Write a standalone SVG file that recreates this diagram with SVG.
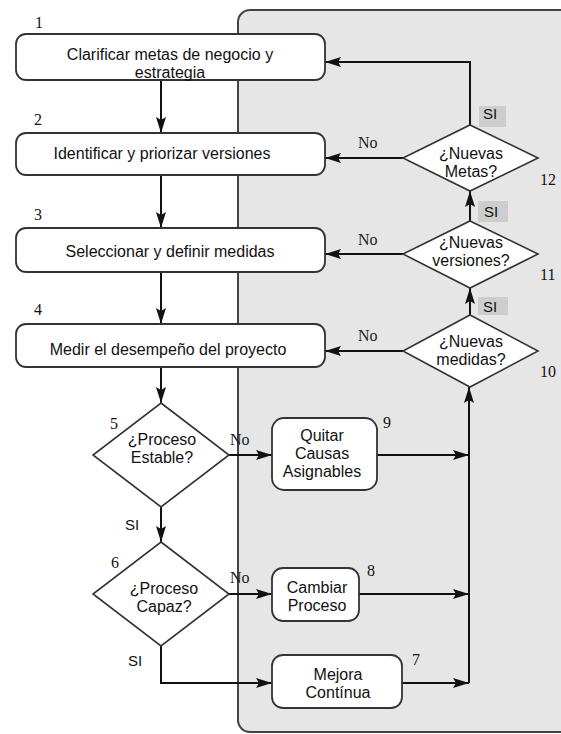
<svg xmlns="http://www.w3.org/2000/svg" width="561" height="734" viewBox="0 0 561 734">
  <style>
    .box { fill: #ffffff; stroke: #333333; stroke-width: 1.8; }
    .dia { fill: #ffffff; stroke: #333333; stroke-width: 1.6; }
    .t { font-family: "Liberation Sans", Arial, sans-serif; font-size: 16px; fill: #111111; text-anchor: middle; }
    .n { font-family: "Liberation Serif", "Times New Roman", serif; font-size: 16px; fill: #111111; }
    .lbl { font-family: "Liberation Serif", "Times New Roman", serif; font-size: 16px; fill: #222222; }
    .si { font-family: "Liberation Sans", Arial, sans-serif; font-size: 15px; fill: #111111; }
    .sibg { fill: #cdcdcd; }
    .ca { fill: none; stroke: #111111; stroke-width: 2; marker-end: url(#ah); }
  </style>
  <defs>
    <marker id="ah" viewBox="0 0 16 10" refX="16" refY="5" markerWidth="16" markerHeight="10" orient="auto" markerUnits="userSpaceOnUse">
      <path d="M0,0 L16,5 L0,10 L3,5 z" fill="#111111"/>
    </marker>
  </defs>

  <rect width="561" height="734" fill="#ffffff"/>

  <!-- shaded improvement area -->
  <rect x="238" y="10" width="340" height="722" rx="12" fill="#e6e6e6" stroke="#444444" stroke-width="2"/>

  <!-- connectors -->
  <g id="connectors">
    <path class="ca" d="M161,80 V133"/>
    <path class="ca" d="M161,175 V228"/>
    <path class="ca" d="M161,272 V324"/>
    <path class="ca" d="M161,367 V403"/>
    <path class="ca" d="M229,455 H272"/>
    <path class="ca" d="M161,507 V542"/>
    <path class="ca" d="M229,594 H272"/>
    <path class="ca" d="M161,646 V683 H272"/>
    <path class="ca" d="M377,455 H469"/>
    <path class="ca" d="M359,594 H469"/>
    <path class="ca" d="M402,683 H469"/>
    <path class="ca" d="M469,683 V387"/>
    <path class="ca" d="M470,315 V288"/>
    <path class="ca" d="M470,221 V191"/>
    <path class="ca" d="M470,125 V62 H325"/>
    <path class="ca" d="M403,158 H325"/>
    <path class="ca" d="M403,254 H325"/>
    <path class="ca" d="M403,351 H325"/>

    <text class="lbl" x="358" y="148">No</text>
    <text class="lbl" x="358" y="245">No</text>
    <text class="lbl" x="358" y="341">No</text>
    <text class="lbl" x="230" y="445">No</text>
    <text class="lbl" x="230" y="583">No</text>

    <rect class="sibg" x="479" y="106" width="27" height="21"/>
    <text class="si" x="483" y="119">SI</text>
    <rect class="sibg" x="478" y="201" width="30" height="21"/>
    <text class="si" x="484" y="217">SI</text>
    <rect class="sibg" x="478" y="297" width="30" height="18"/>
    <text class="si" x="483" y="312">SI</text>
    <text class="si" x="125" y="530">SI</text>
    <text class="si" x="128" y="666">SI</text>
  </g>

  <g id="n1">
    <rect class="box" x="16" y="34" width="309" height="46" rx="10"/>
    <text class="t" x="170" y="60">Clarificar metas de negocio y</text>
    <text class="t" x="170" y="78">estrategia</text>
    <text class="n" x="35" y="28">1</text>
  </g>
  <g id="n2">
    <rect class="box" x="16" y="133" width="309" height="42" rx="10"/>
    <text class="t" x="162" y="159">Identificar y priorizar versiones</text>
    <text class="n" x="34" y="125">2</text>
  </g>
  <g id="n3">
    <rect class="box" x="16" y="228" width="309" height="44" rx="10"/>
    <text class="t" x="170" y="257">Seleccionar y definir medidas</text>
    <text class="n" x="34" y="220">3</text>
  </g>
  <g id="n4">
    <rect class="box" x="16" y="324" width="309" height="43" rx="10"/>
    <text class="t" x="168" y="355">Medir el desempeño del proyecto</text>
    <text class="n" x="34" y="315">4</text>
  </g>
  <g id="n5">
    <polygon class="dia" points="161,403 229,455 161,507 93,455"/>
    <text class="t" x="162" y="445">¿Proceso</text>
    <text class="t" x="162" y="463">Estable?</text>
    <text class="n" x="110" y="429">5</text>
  </g>
  <g id="n6">
    <polygon class="dia" points="161,542 229,594 161,646 93,594"/>
    <text class="t" x="164" y="594">¿Proceso</text>
    <text class="t" x="164" y="612">Capaz?</text>
    <text class="n" x="111" y="568">6</text>
  </g>
  <g id="n7">
    <rect class="box" x="272" y="655" width="130" height="53" rx="11"/>
    <text class="t" x="338" y="680">Mejora</text>
    <text class="t" x="338" y="698">Contínua</text>
    <text class="n" x="412" y="665">7</text>
  </g>
  <g id="n8">
    <rect class="box" x="272" y="568" width="87" height="53" rx="11"/>
    <text class="t" x="317" y="593">Cambiar</text>
    <text class="t" x="317" y="611">Proceso</text>
    <text class="n" x="367" y="576">8</text>
  </g>
  <g id="n9">
    <rect class="box" x="272" y="418" width="105" height="72" rx="12"/>
    <text class="t" x="322" y="441">Quitar</text>
    <text class="t" x="322" y="459">Causas</text>
    <text class="t" x="322" y="477">Asignables</text>
    <text class="n" x="383" y="428">9</text>
  </g>
  <g id="n10">
    <polygon class="dia" points="470,315 538,351 470,387 403,351"/>
    <text class="t" x="471" y="347">¿Nuevas</text>
    <text class="t" x="471" y="365">medidas?</text>
    <text class="n" x="540" y="377">10</text>
  </g>
  <g id="n11">
    <polygon class="dia" points="470,221 538,254 470,288 403,254"/>
    <text class="t" x="471" y="248">¿Nuevas</text>
    <text class="t" x="471" y="266">versiones?</text>
    <text class="n" x="540" y="280">11</text>
  </g>
  <g id="n12">
    <polygon class="dia" points="470,125 538,158 470,191 403,158"/>
    <text class="t" x="471" y="159">¿Nuevas</text>
    <text class="t" x="471" y="177">Metas?</text>
    <text class="n" x="540" y="185">12</text>
  </g>
</svg>
